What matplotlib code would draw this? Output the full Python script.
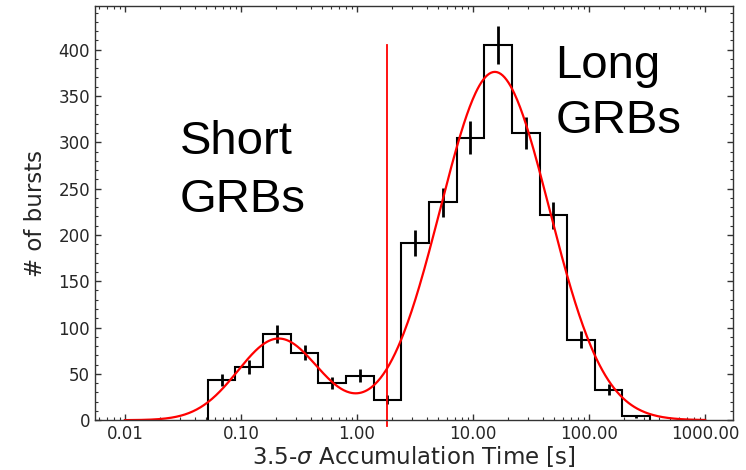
import numpy as np
import matplotlib
matplotlib.use("Agg")
import matplotlib.pyplot as plt
from matplotlib.ticker import FixedLocator, MultipleLocator, FormatStrFormatter, LogLocator, NullFormatter

# histogram of 3.5-sigma accumulation times (log-spaced bins)
log_edge_lo = -1.286
log_edge_hi = 2.526
n_bins = 16
counts = [43, 57, 93, 73, 40, 48, 22, 191, 235, 305, 405, 310, 221, 87, 33, 4]

# two-component log-normal fit (amplitude, log10 centre, log10 width)
short_fit = [88, -0.676, 0.35]
long_fit = [376, 1.188, 0.47]

# short / long separation
t_split = 1.82

x_ticks = [0.01, 0.1, 1.0, 10.0, 100.0, 1000.0]

edges = np.logspace(log_edge_lo, log_edge_hi, n_bins + 1)
centres = np.sqrt(edges[:-1] * edges[1:])
counts = np.array(counts, dtype=float)
errors = np.sqrt(counts)

t = np.logspace(-2, 3, 600)
lt = np.log10(t)
model = sum(a * np.exp(-(lt - m) ** 2 / (2 * s ** 2)) for a, m, s in (short_fit, long_fit))

fig = plt.figure(figsize=(7.46, 4.70), dpi=100)
ax = fig.add_axes([0.127, 0.106, 0.856, 0.881])

ax.stairs(counts, edges, color="black", linewidth=1.5, baseline=0)
ax.errorbar(centres, counts, yerr=errors, fmt="none", ecolor="black", elinewidth=2, capsize=0)
ax.plot(t, model, color="red", linewidth=1.6)
ax.plot([t_split, t_split], [-6, 405], color="red", linewidth=1.3, clip_on=False)

ax.set_xscale("log")
ax.set_xlim(0.0055, 1750)
ax.set_ylim(0, 447)
ax.xaxis.set_major_locator(FixedLocator(x_ticks))
ax.xaxis.set_major_formatter(FormatStrFormatter("%.2f"))
ax.xaxis.set_minor_locator(LogLocator(base=10, subs=np.arange(2, 10)))
ax.xaxis.set_minor_formatter(NullFormatter())
ax.yaxis.set_major_locator(MultipleLocator(50))
ax.yaxis.set_minor_locator(MultipleLocator(10))

ax.tick_params(which="both", direction="in", top=True, right=True,
               labelsize=12, labelcolor="#262626", color="#333333")
ax.tick_params(which="major", length=4.5, width=1)
ax.tick_params(which="minor", length=2.5, width=0.8)
for sp in ax.spines.values():
    sp.set_color("#333333")
    sp.set_linewidth(1.0)

ax.set_xlabel(r"3.5-$\sigma$ Accumulation Time [s]", fontsize=16.5, color="#262626", labelpad=1)
ax.set_ylabel("# of bursts", fontsize=16.5, color="#262626", labelpad=8)

ax.text(0.133, 0.503, "Short\nGRBs", transform=ax.transAxes, fontsize=34,
        family="Liberation Sans", va="baseline", ha="left", linespacing=1.42)
ax.text(0.721, 0.693, "Long\nGRBs", transform=ax.transAxes, fontsize=34,
        family="Liberation Sans", va="baseline", ha="left", linespacing=1.33)

fig.savefig("out.png", dpi=100)
